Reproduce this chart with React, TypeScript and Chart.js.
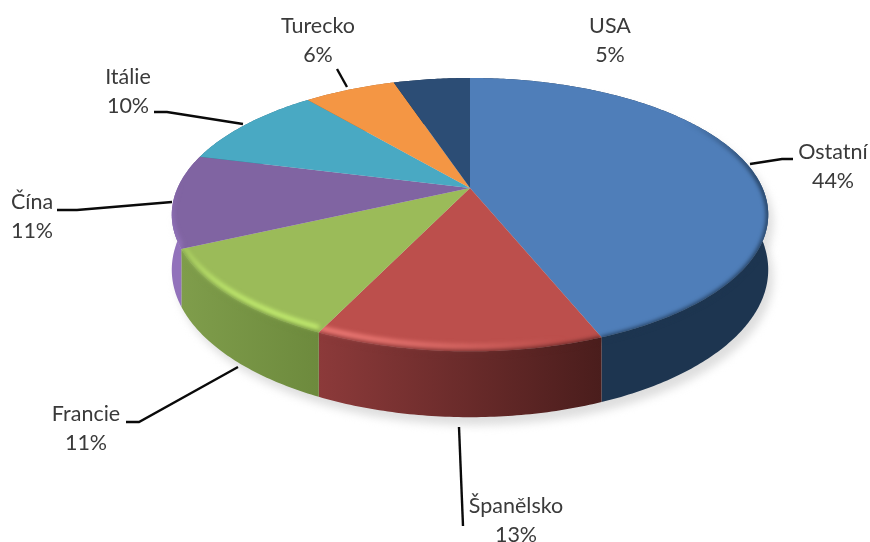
import React, { useEffect, useRef } from "react";
import { Chart, registerables } from "chart.js";

Chart.register(...registerables);

const categories = ["Ostatní", "Španělsko", "Francie", "Čína", "Itálie", "Turecko", "USA"];
const shares = [44, 13, 11, 11, 10, 6, 5];
const faceColors = ["#4f7eb9", "#bc4f4c", "#9bbb59", "#8064a2", "#49a9c3", "#f49644", "#2c4d75"];
const glowColors = ["#6f9edb", "#f27f7a", "#c4ee70", "#9c7fc6", "#68c8e2", "#ffb468", "#3e6690"];
const sideStops = [
  ["#1d3550", "#1d3550"],
  ["#8c3a3a", "#4a1d1c"],
  ["#7f9d4b", "#6d8a3d"],
  ["#9272bb", "#7a5c9c"],
  ["#2f7085", "#2f7085"],
  ["#a5632b", "#a5632b"],
  ["#1c324d", "#1c324d"],
];
const labelCenters = [[833, 152], [516, 506], [86, 414], [32, 202], [128, 77], [318, 26], [610, 26]];
const leaders = [
  [[750, 164], [782, 159], [793, 159]],
  [[459, 427], [463, 526]],
  [[126, 422], [139, 422], [238, 367]],
  [[57, 210], [77, 210], [172, 202]],
  [[154, 112], [167, 112], [243, 124]],
  [[337, 69], [347, 87]],
  [],
];

const PERSPECTIVE = 0.195;
const X_RATIO = 292.5 / 188;
const Y_RATIO = 131.5 / 188;
const DEPTH = 53;
const LINE_GAP = 29.5;

const pie3dPlugin = {
  id: "pie3d",
  beforeDatasetDraw(chart: any) {
    const ctx: CanvasRenderingContext2D = chart.ctx;
    const arcs = chart.getDatasetMeta(0).data as any[];
    const cx = arcs[0].x;
    const cy = arcs[0].y;
    const r = arcs[0].outerRadius;
    const rx = r * X_RATIO;
    const ry = r * Y_RATIO;

    const P = (a: number, z = 0): [number, number] => {
      const u = Math.sin(a);
      const v = -Math.cos(a);
      const w = 1 - PERSPECTIVE * v;
      return [cx + (rx * u) / w, cy + (ry * v + z) / w];
    };
    const theta = (el: any) => [el.startAngle + Math.PI / 2, el.endAngle + Math.PI / 2];
    const arcTo = (c: any, a0: number, a1: number, z = 0) => {
      const n = Math.max(4, Math.ceil(Math.abs(a1 - a0) * 80));
      for (let i = 0; i <= n; i++) {
        const p = P(a0 + ((a1 - a0) * i) / n, z);
        c.lineTo(p[0], p[1]);
      }
    };
    const facePath = (c: any, a0: number, a1: number) => {
      c.moveTo(cx, cy);
      arcTo(c, a0, a1);
      c.closePath();
    };
    const sidePath = (c: any, a0: number, a1: number) => {
      const s = P(a0);
      c.moveTo(s[0], s[1]);
      arcTo(c, a0, a1);
      arcTo(c, a1, a0, DEPTH);
      c.closePath();
    };

    // soft shadow
    ctx.save();
    ctx.filter = "blur(4px)";
    ctx.fillStyle = "#dedede";
    ctx.translate(5, 8);
    ctx.beginPath();
    arcTo(ctx, 0, Math.PI * 2, DEPTH);
    ctx.closePath();
    ctx.fill();
    ctx.beginPath();
    arcTo(ctx, 0, Math.PI * 2, 0);
    ctx.closePath();
    ctx.fill();
    ctx.restore();

    // walls
    const wallFill = (i: number, a0: number, a1: number) => {
      const p0 = P(a0);
      const p1 = P(a1);
      const g = ctx.createLinearGradient(Math.min(p0[0], p1[0]), 0, Math.max(p0[0], p1[0]), 0);
      g.addColorStop(0, sideStops[i][0]);
      g.addColorStop(1, sideStops[i][1]);
      return g;
    };
    arcs.forEach((el, i) => {
      const [a0, a1] = theta(el);
      ctx.fillStyle = wallFill(i, a0, a1);
      ctx.beginPath();
      sidePath(ctx, a0, a1);
      ctx.fill();
    });

    // top faces
    arcs.forEach((el, i) => {
      const [a0, a1] = theta(el);
      ctx.fillStyle = faceColors[i];
      ctx.beginPath();
      facePath(ctx, a0, a1);
      ctx.fill();
    });

    // bevel on the rim: soft wall-coloured edge, then a highlight on the lit side
    const tmp = document.createElement("canvas");
    tmp.width = chart.width;
    tmp.height = chart.height;
    const t = tmp.getContext("2d") as CanvasRenderingContext2D;
    const DEG = Math.PI / 180;
    arcs.forEach((el, i) => {
      const [a0, a1] = theta(el);
      t.clearRect(0, 0, tmp.width, tmp.height);
      const steps = Math.max(4, Math.ceil((a1 - a0) * 60));
      t.lineCap = "butt";
      for (let s = 0; s < steps; s++) {
        const b0 = a0 + ((a1 - a0) * s) / steps;
        const b1 = a0 + ((a1 - a0) * (s + 1.15)) / steps;
        const mid = ((b0 + b1) / 2) / DEG;
        const edge = Math.min(1, Math.max(0, (mid - 55) / 30)) * Math.min(1, Math.max(0, (272 - mid) / 20));
        if (edge > 0) {
          t.globalAlpha = edge;
          t.strokeStyle = wallFill(i, a0, a1);
          t.lineWidth = 4;
          t.beginPath();
          const p = P(b0, 1);
          t.moveTo(p[0], p[1]);
          arcTo(t, b0, b1, 1);
          t.stroke();
        }
        const off = Math.abs(mid - 212) / 48;
        const glow = off < 1 ? Math.pow(Math.cos((off * Math.PI) / 2), 1.3) : 0;
        if (glow > 0) {
          t.globalAlpha = glow;
          t.strokeStyle = glowColors[i];
          t.lineWidth = 5;
          t.beginPath();
          const p = P(b0, -4);
          t.moveTo(p[0], p[1]);
          arcTo(t, b0, b1, -4);
          t.stroke();
        }
      }
      t.globalAlpha = 1;
      ctx.save();
      ctx.beginPath();
      facePath(ctx, a0, a1);
      sidePath(ctx, a0, a1);
      ctx.clip();
      ctx.filter = "blur(2px)";
      ctx.drawImage(tmp, 0, 0);
      ctx.restore();
    });
    return false;
  },
  afterDraw(chart: any) {
    const ctx: CanvasRenderingContext2D = chart.ctx;
    ctx.save();
    ctx.strokeStyle = "#0a0a0a";
    ctx.lineWidth = 2.4;
    leaders.forEach((line) => {
      if (!line.length) return;
      ctx.beginPath();
      line.forEach((p, i) => (i ? ctx.lineTo(p[0], p[1]) : ctx.moveTo(p[0], p[1])));
      ctx.stroke();
    });
    ctx.font = '21.5px Lato';
    ctx.fillStyle = "#3a3a3a";
    ctx.textAlign = "center";
    ctx.textBaseline = "middle";
    const values = chart.data.datasets[0].data as number[];
    (chart.data.labels as string[]).forEach((name, i) => {
      const [x, y] = labelCenters[i];
      ctx.fillText(name, x, y);
      ctx.fillText(`${values[i]}%`, x, y + LINE_GAP);
    });
    ctx.restore();
  },
};

export default function App() {
  const ref = useRef<HTMLCanvasElement>(null);
  useEffect(() => {
    document.body.style.margin = "0";
    document.body.style.background = "#ffffff";
    const chart = new Chart(ref.current as HTMLCanvasElement, {
      type: "pie",
      data: {
        labels: categories,
        datasets: [{ data: shares, backgroundColor: faceColors, borderWidth: 0 }],
      },
      options: {
        responsive: false,
        animation: false,
        layout: { padding: { left: 70, right: 0, top: 0, bottom: 166 } },
        plugins: { legend: { display: false }, tooltip: { enabled: false } },
      },
      plugins: [pie3dPlugin],
    } as any);
    return () => chart.destroy();
  }, []);
  return <canvas ref={ref} width={870} height={542} style={{ display: "block" }} />;
}
